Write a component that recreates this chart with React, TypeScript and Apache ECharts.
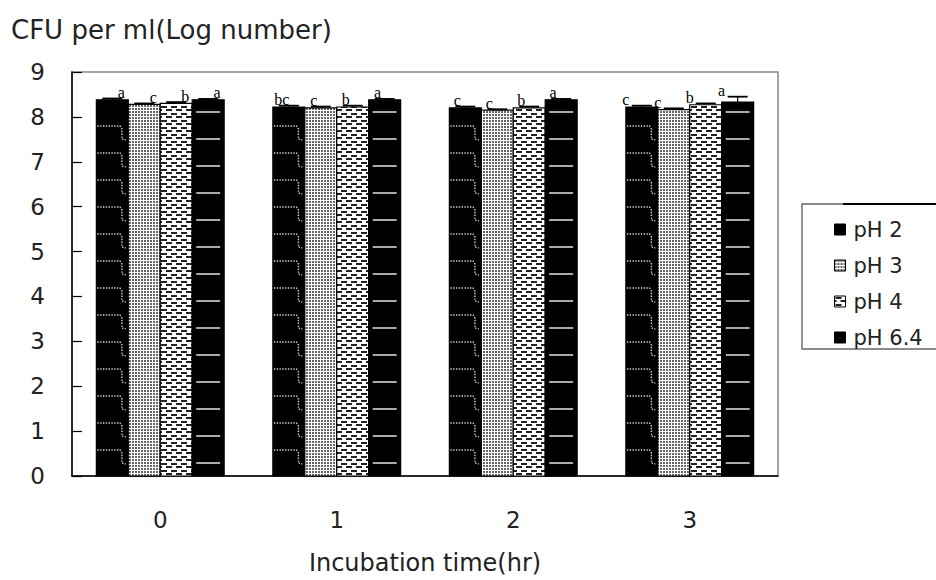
import React, { useEffect, useRef } from "react";
import * as echarts from "echarts";

// Incubation time categories (hr)
const hours = ["0", "1", "2", "3"];
const seriesNames = ["pH 2", "pH 3", "pH 4", "pH 6.4"];

// Mean viable counts, log CFU per ml
const ph2Values = [8.38, 8.22, 8.2, 8.22];
const ph3Values = [8.28, 8.2, 8.15, 8.16];
const ph4Values = [8.3, 8.22, 8.2, 8.27];
const ph64Values = [8.38, 8.38, 8.38, 8.33];

// Standard deviations
const ph2Errors = [0.03, 0.03, 0.03, 0.03];
const ph3Errors = [0.02, 0.03, 0.02, 0.03];
const ph4Errors = [0.03, 0.03, 0.03, 0.03];
const ph64Errors = [0.02, 0.02, 0.02, 0.12];

// Significance letters
const ph2Letters = ["a", "bc", "c", "c"];
const ph3Letters = ["c", "c", "c", "c"];
const ph4Letters = ["b", "b", "b", "b"];
const ph64Letters = ["a", "a", "a", "a"];

const FONT = '"DejaVu Sans", sans-serif';
const BAR_SHARE = 0.724;
const LETTER_SHIFT = [9, -7, -8, -16];

type Kind = "steps" | "dots" | "bricks" | "rules";

function tile(w: number, h: number, draw: (g: CanvasRenderingContext2D) => void) {
  const c = document.createElement("canvas");
  c.width = w;
  c.height = h;
  const g = c.getContext("2d")!;
  g.fillStyle = "#fff";
  g.fillRect(0, 0, w, h);
  draw(g);
  return { image: c, repeat: "repeat", imageWidth: w, imageHeight: h } as any;
}

function makeDots() {
  return tile(3, 3, (g) => {
    g.fillStyle = "#666";
    g.fillRect(0, 0, 2, 2);
  });
}

function makeBricks() {
  return tile(10, 7, (g) => {
    g.fillStyle = "#222";
    g.fillRect(1, 1, 6, 2);
    g.fillRect(6, 4, 4, 2);
    g.fillRect(0, 4, 2, 2);
  });
}

function renderer(s: number, kind: Kind, letters: string[], fill: any) {
  return (_params: any, api: any) => {
    const i = api.value(0);
    const v = api.value(1);
    const e = api.value(2);
    const [cx, yBase] = api.coord([i, 0]);
    const yTop = api.coord([i, v])[1];
    const yErr = api.coord([i, v + e])[1];
    const band = api.size([1, 0])[0];
    const w = (band * BAR_SHARE) / 4;
    const x = cx - 2 * w + s * w;
    const mid = x + w / 2;
    const children: any[] = [
      {
        type: "rect",
        shape: { x, y: yTop, width: w, height: yBase - yTop },
        style: { fill, stroke: "#000", lineWidth: 1.2 },
      },
    ];
    if (kind === "rules") {
      for (let y = yBase - 13; y > yTop + 8; y -= 27) {
        children.push({
          type: "line",
          shape: { x1: x + 4, y1: y, x2: x + w - 4, y2: y },
          style: { stroke: "#d6d6d6", lineWidth: 1.6 },
        });
      }
    }
    if (kind === "steps") {
      for (let y = yBase - 26; y > yTop + 12; y -= 27) {
        children.push({
          type: "polyline",
          shape: {
            points: [
              [x + 1, y],
              [x + w * 0.74, y],
              [x + w * 0.8, y + 3],
              [x + w * 0.8, y + 13],
              [x + w * 0.92, y + 14],
            ],
          },
          style: { stroke: "#d0d0d0", lineWidth: 1.4, lineDash: [1.4, 1.4], fill: null },
        });
      }
    }
    children.push({
      type: "line",
      shape: { x1: mid, y1: yTop, x2: mid, y2: yErr },
      style: { stroke: "#000", lineWidth: 1.2 },
    });
    children.push({
      type: "line",
      shape: { x1: mid - 10, y1: yErr, x2: mid + 10, y2: yErr },
      style: { stroke: "#000", lineWidth: 1.8 },
    });
    children.push({
      type: "text",
      z2: 10,
      style: {
        text: letters[i],
        x: mid + LETTER_SHIFT[i],
        y: Math.min(yTop, yErr) + 2,
        align: "center",
        verticalAlign: "bottom",
        font: '16px "Liberation Serif", serif',
        fill: "#000",
      },
    });
    return { type: "group", children };
  };
}

export default function App() {
  const ref = useRef<HTMLDivElement>(null);

  useEffect(() => {
    if (!ref.current) return;
    const chart = echarts.init(ref.current, undefined, { renderer: "svg" });
    const dots = makeDots();
    const bricks = makeBricks();

    const defs = [
      { name: seriesNames[0], kind: "steps" as Kind, values: ph2Values, errors: ph2Errors, letters: ph2Letters, fill: "#000" },
      { name: seriesNames[1], kind: "dots" as Kind, values: ph3Values, errors: ph3Errors, letters: ph3Letters, fill: dots },
      { name: seriesNames[2], kind: "bricks" as Kind, values: ph4Values, errors: ph4Errors, letters: ph4Letters, fill: bricks },
      { name: seriesNames[3], kind: "rules" as Kind, values: ph64Values, errors: ph64Errors, letters: ph64Letters, fill: "#000" },
    ];

    chart.setOption({
      animation: false,
      backgroundColor: "#fff",
      title: {
        text: "CFU per ml(Log number)",
        left: 11,
        top: 17,
        padding: 0,
        textStyle: { fontFamily: FONT, fontSize: 26, fontWeight: "normal", color: "#222" },
      },
      grid: {
        left: 72,
        right: 158,
        top: 72,
        bottom: 103,
        show: true,
        borderColor: "#888",
        borderWidth: 1.5,
        backgroundColor: "transparent",
      },
      legend: {
        orient: "vertical",
        left: 829,
        top: 214,
        icon: "rect",
        itemWidth: 11,
        itemHeight: 11,
        itemGap: 15,
        selectedMode: false,
        textStyle: { fontFamily: FONT, fontSize: 21, lineHeight: 21, color: "#222", padding: [0, 0, 0, 3] },
        data: defs.map((d) => ({
          name: d.name,
          itemStyle: { color: d.fill, borderColor: "#000", borderWidth: 1 },
        })),
      },
      graphic: [
        {
          type: "rect",
          shape: { x: 802, y: 204, width: 160, height: 145 },
          style: { fill: "none", stroke: "#666", lineWidth: 1.4 },
        },
        {
          type: "line",
          shape: { x1: 843, y1: 204, x2: 936, y2: 204 },
          style: { stroke: "#000", lineWidth: 2 },
        },
      ],
      xAxis: {
        type: "category",
        data: hours,
        boundaryGap: true,
        name: "Incubation time(hr)",
        nameLocation: "middle",
        nameGap: 75,
        nameTextStyle: { fontFamily: FONT, fontSize: 24, color: "#222" },
        axisLine: { lineStyle: { color: "#000", width: 1.5 } },
        axisTick: { inside: true, length: 8, lineStyle: { color: "#000", width: 1.2 } },
        axisLabel: { fontFamily: FONT, fontSize: 23, color: "#222", margin: 32 },
        splitLine: { show: false },
      },
      yAxis: {
        type: "value",
        min: 0,
        max: 9,
        interval: 1,
        axisLine: { show: true, lineStyle: { color: "#000", width: 1.5 } },
        axisTick: { show: true, inside: true, length: 10, lineStyle: { color: "#000", width: 1.2 } },
        axisLabel: { fontFamily: FONT, fontSize: 23, color: "#222", margin: 27 },
        splitLine: { show: false },
      },
      series: defs.map((d, s) => ({
        type: "custom",
        name: d.name,
        clip: false,
        itemStyle: { color: typeof d.fill === "string" ? d.fill : "#888" },
        encode: { x: 0, y: 1 },
        data: hours.map((_, i) => [i, d.values[i], d.errors[i]]),
        renderItem: renderer(s, d.kind, d.letters, d.fill),
      })),
    });

    return () => chart.dispose();
  }, []);

  return (
    <div
      ref={ref}
      style={{ position: "fixed", left: 0, top: 0, width: 936, height: 580 }}
    />
  );
}
